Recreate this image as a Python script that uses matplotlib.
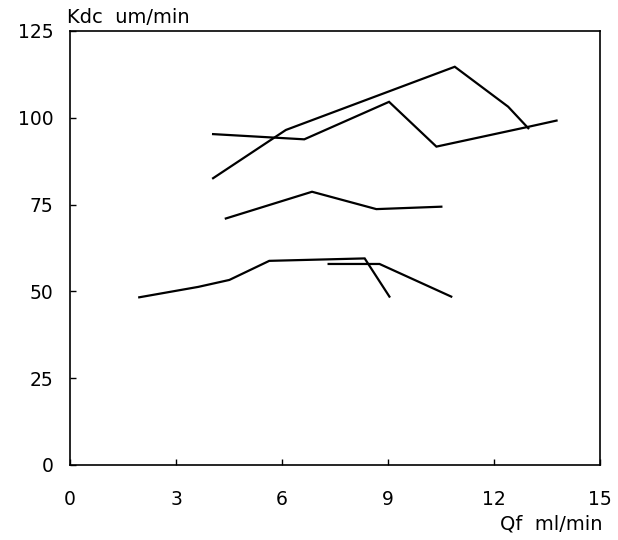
import matplotlib
matplotlib.use("Agg")
import matplotlib.pyplot as plt

# Data series (Qf ml/min, Kdc um/min)
a_x = [4.05, 6.11, 10.89, 12.40, 12.97]
a_y = [82.6, 96.5, 114.7, 103.2, 97.0]

b_x = [4.05, 6.63, 9.03, 10.37, 12.97, 13.77]
b_y = [95.3, 93.8, 104.6, 91.7, 97.4, 99.2]

c_x = [4.41, 6.85, 8.67, 10.51]
c_y = [71.0, 78.7, 73.7, 74.4]

d_x = [1.96, 3.63, 4.51, 5.64, 8.34, 9.04]
d_y = [48.3, 51.3, 53.3, 58.8, 59.5, 48.5]

e_x = [7.32, 8.76, 10.79]
e_y = [57.9, 57.9, 48.5]

x_ticks = [0, 3, 6, 9, 12, 15]
y_ticks = [0, 25, 50, 75, 100, 125]

plt.rcParams['font.family'] = ['DejaVu Sans']

fig = plt.figure(figsize=(6.18, 5.4), dpi=100)
ax = fig.add_axes([70/618, 1-465/540, (600-70)/618, (465-31)/540])

for xs, ys in [(a_x, a_y), (b_x, b_y), (c_x, c_y), (d_x, d_y), (e_x, e_y)]:
    ax.plot(xs, ys, color='black', lw=1.6, solid_joinstyle='miter')

ax.set_xlim(0, 15)
ax.set_ylim(0, 125)
ax.set_xticks(x_ticks)
ax.set_yticks(y_ticks)
ax.set_xticklabels([str(v) for v in x_ticks])
ax.set_yticklabels([str(v) for v in y_ticks])
ax.tick_params(axis='x', direction='in', length=4, width=1, pad=18, labelsize=13.5)
ax.tick_params(axis='y', direction='in', length=4, width=1, pad=12, labelsize=13.5)
for s in ax.spines.values():
    s.set_linewidth(1.2)

fig.text(67/618, 1-23/540, 'Kdc  um/min', fontsize=14, va='baseline', ha='left')
fig.text(602/618, 1-530/540, 'Qf  ml/min', fontsize=14, va='baseline', ha='right')

fig.savefig('out.png', dpi=100)
